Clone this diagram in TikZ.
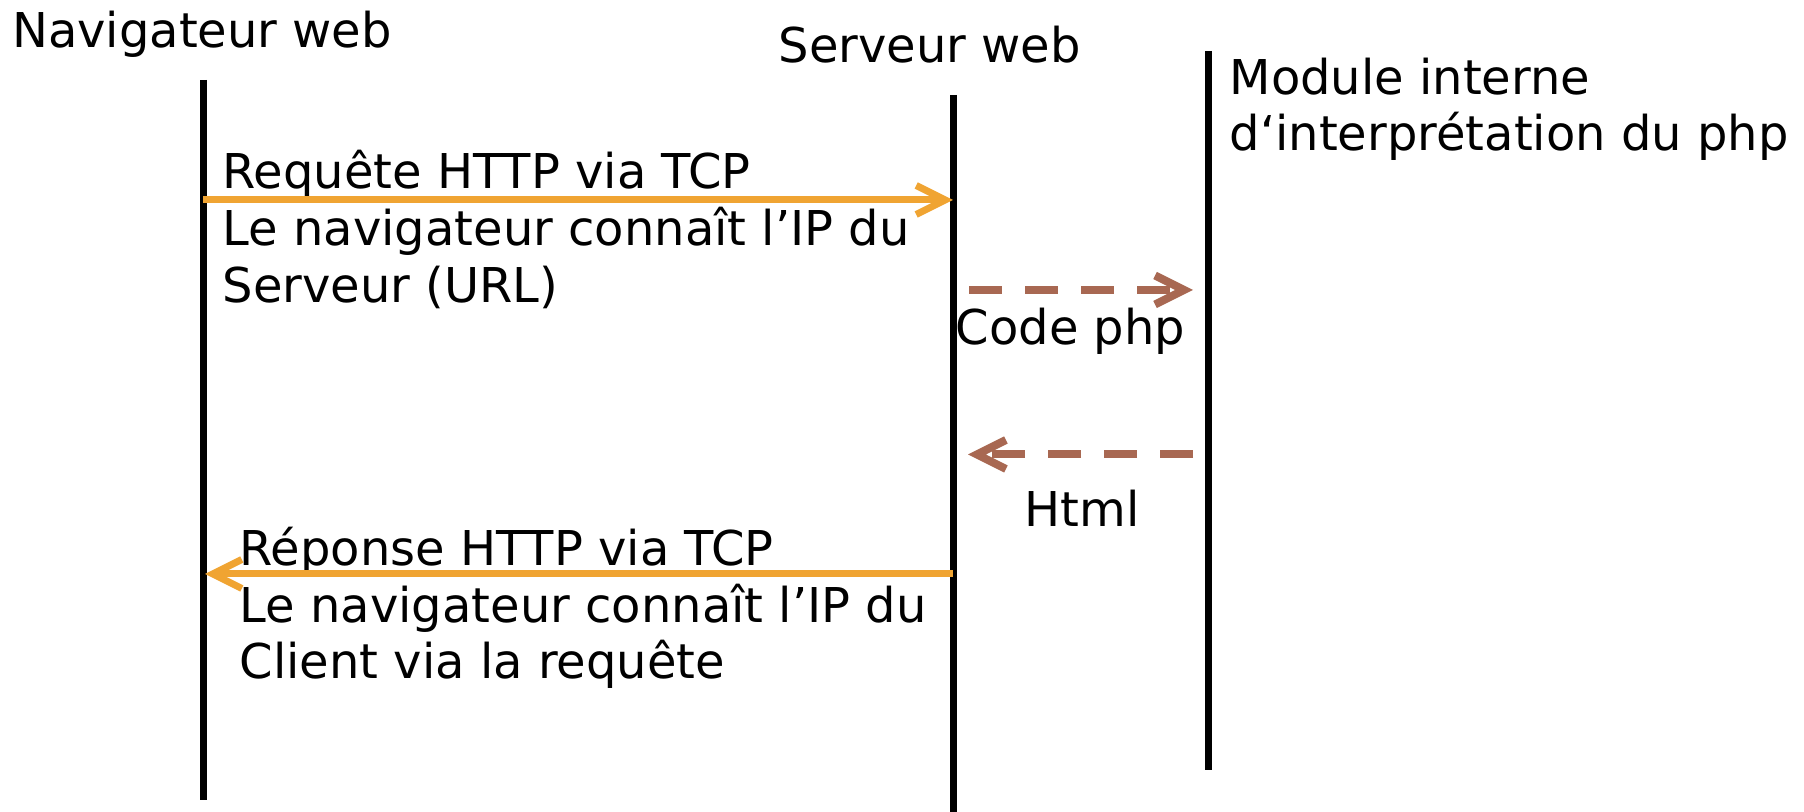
\documentclass[tikz,border=0pt]{standalone}
\usepackage{fontspec}
\setmainfont{DejaVu Sans}
\usepackage{tikz}
\usetikzlibrary{arrows.meta}
\definecolor{httporange}{RGB}{240,164,50}
\definecolor{phpbrown}{RGB}{168,104,82}

\begin{document}
\begin{tikzpicture}[
  label/.style={anchor=base west, inner sep=0pt, align=left, font=\fontsize{13.65}{16.2}\selectfont},
  lifeline/.style={color=black, line width=0.7mm},
  httparrow/.style={color=httporange, line width=0.7mm, -{Straight Barb[length=2.9mm, width=2.9mm]}},
  phparrow/.style={color=phpbrown, line width=0.8mm, dash pattern=on 3.3mm off 2.3mm, -{Straight Barb[length=2.9mm, width=2.9mm]}}
  ]
  \useasboundingbox (0,0) rectangle (18.04,8.12);
  \coordinate (nav-top) at (2.03, 7.32);
  \coordinate (nav-bot) at (2.03, 0.12);
  \coordinate (srv-top) at (9.53, 7.17);
  \coordinate (srv-bot) at (9.53, 0);
  \coordinate (mod-top) at (12.085, 7.61);
  \coordinate (mod-bot) at (12.085, 0.42);
  \draw[lifeline] (nav-top) -- (nav-bot);
  \draw[lifeline] (srv-top) -- (srv-bot);
  \draw[lifeline] (mod-top) -- (mod-bot);

  \node[label] (nav) at (0.115, 7.64) {Navigateur web};
  \node[label] (srv) at (7.78, 7.49) {Serveur web};
  \node[label] (mod) at (12.29, 6.61) {Module interne\\d‘interprétation du php};

  \node[label] (req) at (2.22, 5.095) {Requête HTTP via TCP\\Le navigateur connaît l’IP du\\Serveur (URL)};
  \node[label] (codephp) at (9.55, 4.67) {Code php};
  \node[label] (html) at (10.24, 2.85) {Html};
  \node[label] (rep) at (2.39, 1.33) {Réponse HTTP via TCP\\Le navigateur connaît l’IP du\\Client via la requête};

  \coordinate (req-from) at (2.03, 6.12);
  \coordinate (req-to) at (9.53, 6.12);
  \coordinate (php-from) at (9.69, 5.22);
  \coordinate (php-to) at (11.93, 5.22);
  \coordinate (html-from) at (11.93, 3.575);
  \coordinate (html-to) at (9.68, 3.575);
  \coordinate (rep-from) at (9.53, 2.38);
  \coordinate (rep-to) at (2.05, 2.38);
  \draw[httparrow] (req-from) -- (req-to);
  \draw[phparrow] (php-from) -- (php-to);
  \draw[phparrow] (html-from) -- (html-to);
  \draw[httparrow] (rep-from) -- (rep-to);
\end{tikzpicture}
\end{document}
